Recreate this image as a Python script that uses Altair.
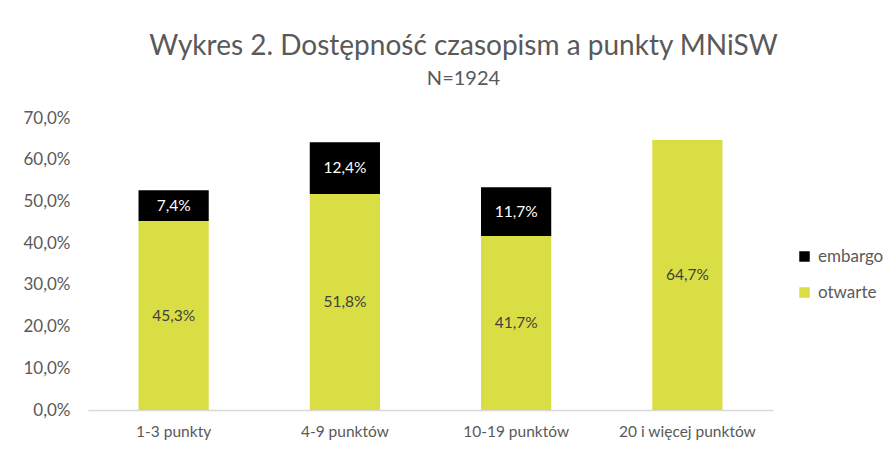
import altair as alt
import pandas as pd

categories = ["1-3 punkty", "4-9 punktów", "10-19 punktów", "20 i więcej punktów"]
otwarte = [45.3, 51.8, 41.7, 64.7]
embargo = [7.4, 12.4, 11.7, 0.0]
series = ["embargo", "otwarte"]
colors = ["#000000", "#DADE45"]
y_ticks = [0, 10, 20, 30, 40, 50, 60, 70]

rows = []
for c, o, e in zip(categories, otwarte, embargo):
    rows.append({"kat": c, "seria": "otwarte", "v": o, "ord": 0})
    rows.append({"kat": c, "seria": "embargo", "v": e, "ord": 1})
df = pd.DataFrame(rows)

FONT = "Lato"
TXT = "#595959"

x_enc = alt.X("kat:N", sort=categories, title=None,
              scale=alt.Scale(paddingInner=0.59, paddingOuter=0.295),
              axis=alt.Axis(labelAngle=0, labelFontSize=15.5, labelColor=TXT, labelFont=FONT,
                            ticks=False, domainColor="#D9D9D9", domainWidth=1.5, labelPadding=14))

base = alt.Chart(df)

bars = base.mark_bar().encode(
    x=x_enc,
    y=alt.Y("v:Q", stack="zero", title=None,
            scale=alt.Scale(domain=[0, 70]),
            axis=alt.Axis(values=y_ticks, grid=False, domain=False, ticks=False,
                          labelFontSize=17, labelColor=TXT, labelFont=FONT, labelPadding=18,
                          labelExpr="replace(format(datum.value, '.1f'), '.', ',') + '%'")),
    color=alt.Color("seria:N", scale=alt.Scale(domain=series, range=colors),
                    legend=alt.Legend(title=None, orient="none", legendX=708, legendY=130,
                                      symbolType="square", symbolSize=110, symbolStrokeWidth=0,
                                      labelFontSize=17, labelColor=TXT, labelFont=FONT,
                                      rowPadding=18, labelOffset=5)),
    order=alt.Order("ord:Q"),
)

labels = base.transform_stack(
    stack="v", groupby=["kat"], as_=["y0", "y1"], sort=[alt.SortField("ord")]
).transform_filter("datum.v > 0").transform_calculate(
    mid="(datum.y0 + datum.y1) / 2",
    lab="replace(format(datum.v, '.1f'), '.', ',') + '%'",
).mark_text(fontSize=15.5, font=FONT).encode(
    x=alt.X("kat:N", sort=categories),
    y=alt.Y("mid:Q"),
    text="lab:N",
    color=alt.Color("seria:N", scale=alt.Scale(domain=series, range=["#FFFFFF", "#404040"]), legend=None),
)

chart = alt.layer(bars, labels).resolve_scale(color="independent").properties(
    width=685, height=292,
    autosize=alt.AutoSizeParams(type="none"),
    padding={"left": 80, "top": 110, "right": 115, "bottom": 35},
    title=alt.Title("Wykres 2. Dostępność czasopism a punkty MNiSW", subtitle="N=1924",
                    anchor="middle", dx=33, offset=20, fontSize=28, subtitleFontSize=20,
                    font=FONT, subtitleFont=FONT, color=TXT, subtitleColor=TXT,
                    fontWeight="normal", subtitlePadding=8),
).configure(background="white").configure_view(stroke=None)

chart.save("out.html", embed_options={"renderer": "svg", "actions": False})
